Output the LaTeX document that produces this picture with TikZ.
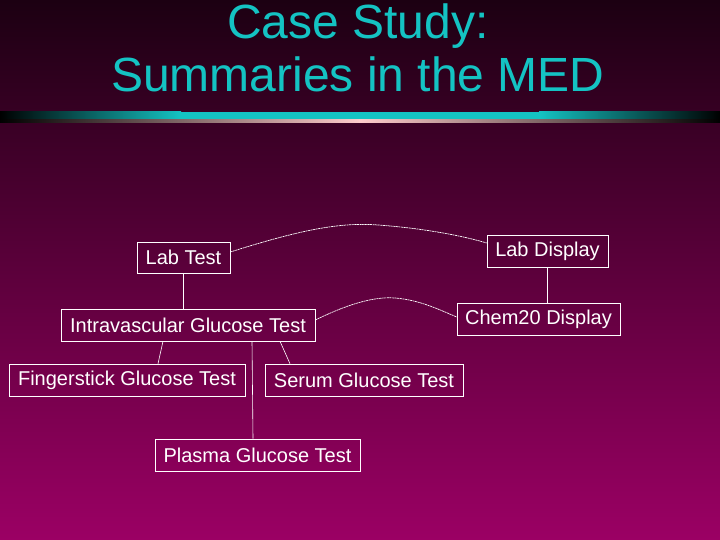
\documentclass[tikz,border=0pt]{standalone}
\usepackage{fontspec}
\setmainfont{Liberation Sans}
\begin{document}
\begin{tikzpicture}[x=1pt,y=-1pt,
  box/.style={draw=white,line width=0.6pt,text=white,font=\fontsize{20}{22}\selectfont,inner sep=0pt},
  link/.style={white,line width=0.6pt},
  dlink/.style={white,line width=0.7pt,dash pattern=on 2pt off 0.6pt}]
\definecolor{bgtop}{RGB}{28,0,18}
\definecolor{bgbot}{RGB}{155,0,100}
\definecolor{ttl}{RGB}{20,195,195}
\shade[top color=bgtop,bottom color=bgbot] (0,0) rectangle (720,540);
\useasboundingbox (0,0) rectangle (720,540);
\fill[ttl] (179,112) rectangle (541,119);
\shade[left color=black,right color=ttl] (0,112) rectangle (181,119);
\shade[left color=ttl,right color=black] (539,112) rectangle (720,119);
\shade[left color=black,right color=pink!80] (0,120) rectangle (361,123);
\shade[left color=pink!80,right color=black] (359,120) rectangle (720,123);
\node[text=ttl,font=\fontsize{48}{53}\selectfont,align=center] (title) at (358,48) {Case Study:\\Summaries in the MED};
\node[box,minimum width=93,minimum height=31] (lab) at (183.5,257.5) {Lab Test};
\node[box,minimum width=121,minimum height=32] (labd) at (547.5,251) {Lab Display};
\node[box,minimum width=254,minimum height=32] (iv) at (188,325) {Intravascular Glucose Test};
\node[box,minimum width=163,minimum height=32] (chem) at (538.5,319) {Chem20 Display};
\node[box,minimum width=236,minimum height=32] (fs) at (127,380) {Fingerstick Glucose Test};
\node[box,minimum width=198,minimum height=32] (se) at (364,380) {Serum Glucose Test};
\node[box,minimum width=205,minimum height=32] (pl) at (257.5,455) {Plasma Glucose Test};
\draw[link] (lab.south) -- (lab.south |- iv.north);
\draw[link] (labd.south) -- (labd.south |- chem.north);
\draw[link] (iv.south -| 163,0) -- (fs.north -| 158,0);
\draw[link] (iv.south -| 252,0) -- (pl.north -| 253,0);
\draw[link] (iv.south -| 280,0) -- (se.north -| 290,0);
\draw[dlink] (lab.east |- 0,252) .. controls (300,230) and (340,222) .. (378,225) .. controls (420,228) and (460,235) .. (labd.west |- 0,243);
\draw[dlink] (iv.east |- 0,320) .. controls (340,308) and (370,296) .. (395,298) .. controls (420,300) and (440,310) .. (chem.west |- 0,317);
\end{tikzpicture}
\end{document}
